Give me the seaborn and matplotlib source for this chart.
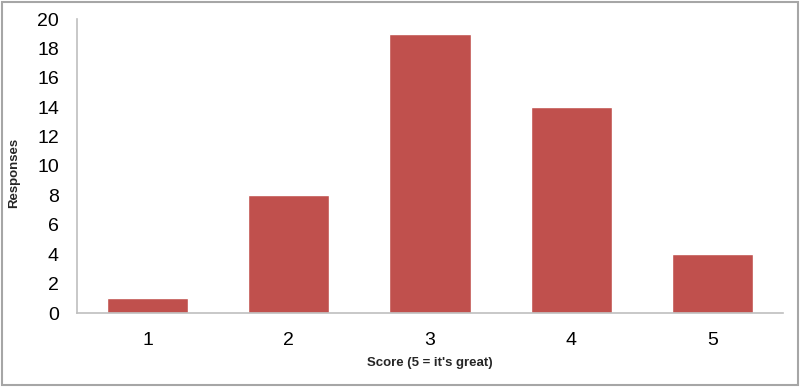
import matplotlib
matplotlib.use("Agg")
import matplotlib.pyplot as plt
import seaborn as sns
import pandas as pd
from matplotlib.patches import Rectangle

scores = ["1", "2", "3", "4", "5"]
responses = [1, 8, 19, 14, 4]
yticks = [0, 2, 4, 6, 8, 10, 12, 14, 16, 18, 20]

sns.set_theme(style="white")
plt.rcParams['font.family'] = ['Liberation Sans', 'DejaVu Sans']

df = pd.DataFrame({"Score": scores, "Responses": responses})

fig = plt.figure(figsize=(8.0, 3.87), dpi=100)
ax = fig.add_axes([77/800, 74/387, (783-77)/800, (313-19)/387])

sns.barplot(data=df, x="Score", y="Responses", color="#C0504D", saturation=1,
            width=0.575, ax=ax)

ax.set_ylim(0, 20)
ax.set_xlim(-0.5, 4.5)
ax.set_yticks(yticks)
ax.set_yticklabels([str(v) for v in yticks])
ax.tick_params(axis='both', labelsize=14, colors='black', length=0)
ax.tick_params(axis='y', pad=13)
ax.tick_params(axis='x', pad=14)

for s in ["top", "right"]:
    ax.spines[s].set_visible(False)
for s in ["left", "bottom"]:
    ax.spines[s].set_color("#BFBFBF")
    ax.spines[s].set_linewidth(1.2)

ax.set_xlabel("Score (5 = it's great)", fontsize=9.5, fontweight='bold')
ax.set_ylabel("Responses", fontsize=9.5, fontweight='bold')
ax.xaxis.set_label_coords(0.5, -0.148)
ax.yaxis.set_label_coords(-0.081, 0.476)

fig.patches.append(Rectangle((0.002, 0.004), 0.996, 0.992, transform=fig.transFigure,
                             fill=False, edgecolor="#A6A6A6", linewidth=1.5))

fig.savefig("out.png", dpi=100)
